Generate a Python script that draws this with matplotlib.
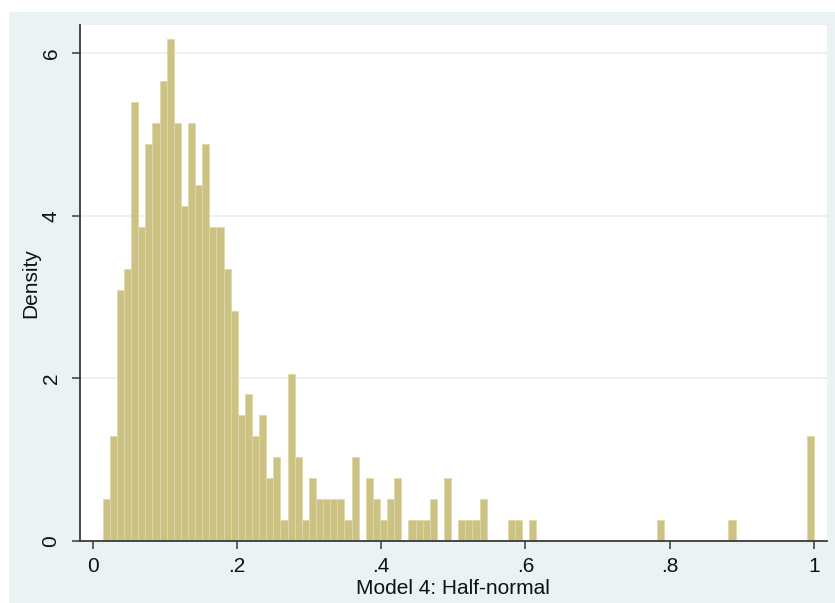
# Histogram of efficiency scores (Stata-style look)
import matplotlib.pyplot as plt
import numpy as np
from matplotlib.patches import Rectangle

plt.rcParams['font.family'] = ['Liberation Sans', 'DejaVu Sans']

# data: observations per bin, 100 equal bins between x_min and x_max
x_min = 0.0135
x_max = 1.0
counts = [2, 5, 12, 13, 21, 15, 19, 20, 22, 24, 20, 16, 20, 17, 19, 15, 15, 13, 11, 6,
          7, 5, 6, 3, 4, 1, 8, 4, 1, 3, 2, 2, 2, 2, 1, 4, 0, 3, 2, 1,
          2, 3, 0, 1, 1, 1, 2, 0, 3, 0, 1, 1, 1, 2, 0, 0, 0, 1, 1, 0,
          1, 0, 0, 0, 0, 0, 0, 0, 0, 0, 0, 0, 0, 0, 0, 0, 0, 0, 1, 0,
          0, 0, 0, 0, 0, 0, 0, 0, 1, 0, 0, 0, 0, 0, 0, 0, 0, 0, 0, 5]
x_ticks = [0, 0.2, 0.4, 0.6, 0.8, 1]
x_ticklabels = ['0', '.2', '.4', '.6', '.8', '1']
y_ticks = [0, 2, 4, 6]
y_ticklabels = ['0', '2', '4', '6']

edges = np.linspace(x_min, x_max, len(counts) + 1)
centers = (edges[:-1] + edges[1:]) / 2

fig = plt.figure(figsize=(8.35, 6.03), dpi=100)
fig.patch.set_facecolor('white')
# light outer background like Stata's s2color scheme
fig.patches.append(Rectangle((9 / 835, 0), 826 / 835, 591 / 603, transform=fig.transFigure,
                             facecolor='#EAF2F3', edgecolor='none', zorder=-10))

ax = fig.add_axes([80 / 835, 1 - 540.7 / 603, 746.7 / 835, 515.7 / 603])
ax.set_zorder(1)
ax.set_facecolor('white')

ax.hist(centers, bins=edges, weights=counts, density=True,
        facecolor='#CCC283', edgecolor='#DED8A8', linewidth=0.6, zorder=2)

ax.set_xlim(-0.018, 1.018)
ax.set_ylim(0, 6.35)

ax.set_xticks(x_ticks)
ax.set_xticklabels(x_ticklabels)
ax.set_yticks(y_ticks)
ax.set_yticklabels(y_ticklabels, rotation=90, va='center')

for y in y_ticks[1:]:
    ax.axhline(y, color='#E9F0F2', linewidth=1.2, zorder=1)

for side in ['top', 'right']:
    ax.spines[side].set_visible(False)
for side in ['left', 'bottom']:
    ax.spines[side].set_color('#3a3a3a')
    ax.spines[side].set_linewidth(1.3)

ax.tick_params(axis='both', direction='out', length=6, width=1.1, color='#3a3a3a',
               labelsize=15, labelcolor='#111111')
ax.tick_params(axis='y', pad=8)
ax.tick_params(axis='x', pad=6)

ax.set_ylabel('Density', fontsize=15, color='#111111', labelpad=1)
ax.set_xlabel('Model 4: Half-normal', fontsize=15, color='#111111', labelpad=2)

fig.savefig('out.png', dpi=100)
